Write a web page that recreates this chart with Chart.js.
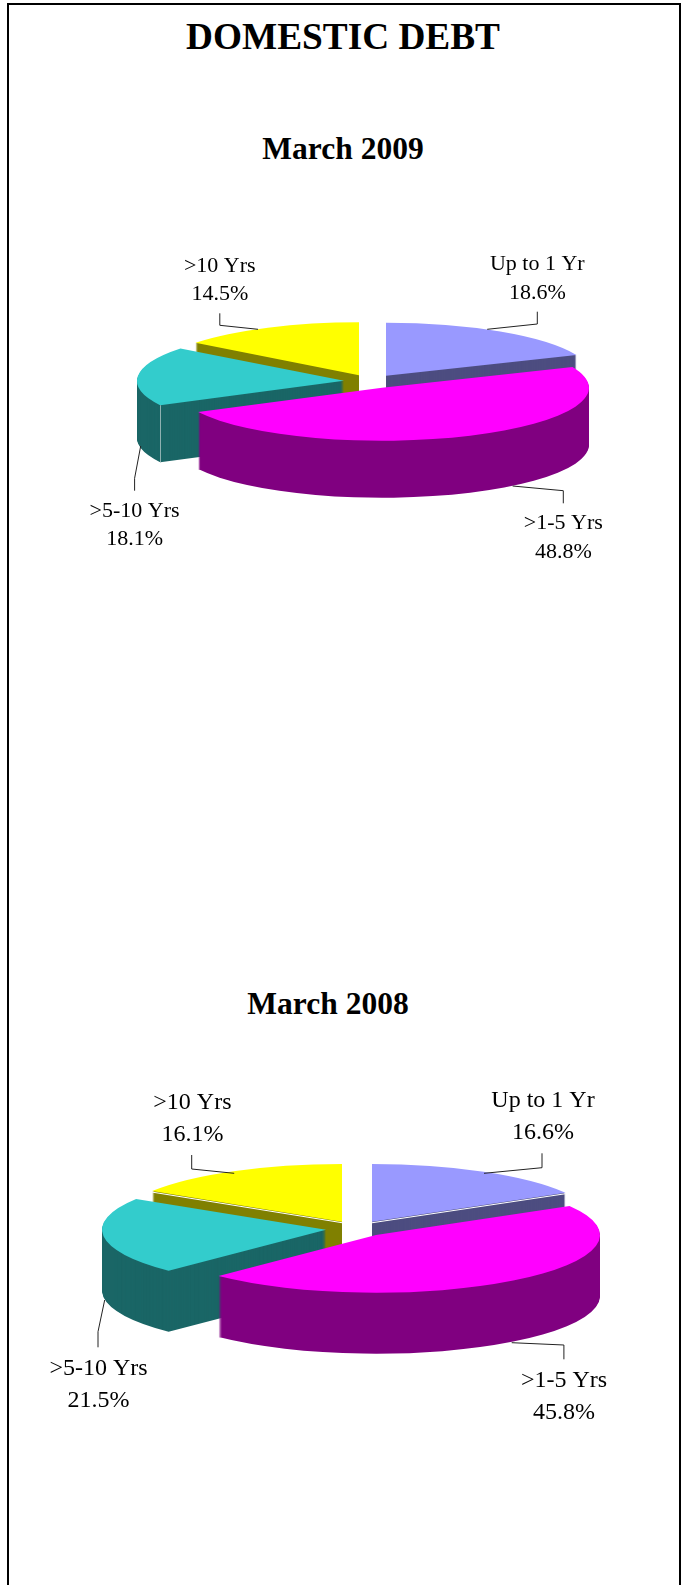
<!DOCTYPE html>
<html>
<head>
<meta charset="utf-8">
<title>Domestic Debt</title>
<script src="https://cdn.jsdelivr.net/npm/chart.js@4"></script>
<style>
  html, body { margin: 0; background: #fff; }
  #page { position: relative; width: 686px; height: 1585px; overflow: hidden; }
  #frame { position: absolute; left: 7px; top: 3px; width: 670px; height: 1600px; border: 2px solid #000; }
  canvas { position: absolute; left: 0; }
  .title { position: absolute; left: 0; width: 686px; text-align: center; font-family: "Liberation Serif", serif; font-weight: bold; line-height: 1; color: #000; }
  #mainTitle { top: 18px; font-size: 37.3px; }
  #title2009 { top: 133px; font-size: 31.5px; }
  #title2008 { top: 988px; left: -15px; font-size: 31.5px; }
</style>
</head>
<body>
<div id="page">
  <div id="frame"></div>
  <div id="mainTitle" class="title">DOMESTIC DEBT</div>
  <div id="title2009" class="title">March 2009</div>
  <div id="title2008" class="title">March 2008</div>
  <canvas id="chart2009" width="686" height="400" style="top:200px"></canvas>
  <canvas id="chart2008" width="686" height="400" style="top:1050px"></canvas>
</div>
<script>
const categories = ["Up to 1 Yr", ">1-5 Yrs", ">5-10 Yrs", ">10 Yrs"];
const values2009 = [18.6, 48.8, 18.1, 14.5];
const values2008 = [16.6, 45.8, 21.5, 16.1];

const topColors = ["#9999FF", "#FF00FF", "#33CCCC", "#FFFF00"];
const sideColors = ["#4D4D80", "#800080", "#1A6666", "#808000"];

// pie placement inside each canvas, callouts in canvas pixels
const look2009 = {
  cx: 371, cy: 181.5, radius: 207, squash: 0.256, depth: 57, explode: 27, fontSize: 22, lineGap: 28.5,
  cornerSeam: 2,
  callouts: [
    { text: [537.3, 70], line: [[487.2, 129.3], [537.3, 124], [537.3, 111.7]] },
    { text: [563.3, 329], line: [[512.6, 286], [563.3, 290.7], [563.3, 303.3]] },
    { text: [134.6, 316.7], line: [[140.7, 246], [134.6, 278.3], [134.6, 290.7]] },
    { text: [219.8, 71.7], line: [[258, 129.3], [219.8, 125.3], [219.8, 113.3]] }
  ]
};
const look2008 = {
  cx: 356.8, cy: 178.7, radius: 224, squash: 0.2576, depth: 61, explode: 31, fontSize: 24, lineGap: 32,
  whiteEdges: { 0: "endAngle", 3: "startAngle" },
  callouts: [
    { text: [543, 56.7], line: [[484, 123.3], [542, 117.7], [542, 103.3]] },
    { text: [564, 336.7], line: [[511.7, 292.7], [563.9, 295], [563.9, 309.3]] },
    { text: [98.5, 324.7], line: [[104.7, 250], [98, 281.7], [98, 297.3]] },
    { text: [192.4, 59], line: [[234.2, 123.3], [191.7, 119], [191.7, 105]] }
  ]
};

// squashes the pie into an ellipse and extrudes each slice downward
const tiltedPie = {
  id: "tiltedPie",
  beforeDatasetsDraw(chart, args, look) {
    const ctx = chart.ctx;
    const meta = chart.getDatasetMeta(0);
    const arcs = meta.data.map((arc, i) => ({ arc, i }));
    // back slices first so the front ones cover them
    arcs.sort((a, b) => {
      return Math.sin((a.arc.startAngle + a.arc.endAngle) / 2) - Math.sin((b.arc.startAngle + b.arc.endAngle) / 2);
    });

    arcs.forEach(({ arc, i }) => {
      const mid = (arc.startAngle + arc.endAngle) / 2;
      // whole pixels keep the straight upright edges free of a dark fringe
      const apexX = Math.round(look.cx + look.explode * Math.cos(mid));
      const apexY = look.cy + look.explode * Math.sin(mid) * look.squash;
      const topOptions = arc.options;
      const sideOptions = { ...topOptions, backgroundColor: sideColors[i] };

      const paint = (drop) => {
        ctx.save();
        ctx.translate(apexX, apexY + drop);
        ctx.scale(1, look.squash);
        ctx.translate(-arc.x, -arc.y);
        arc.draw(ctx);
        ctx.restore();
      };
      const rimPoint = (angle) => [
        apexX + arc.outerRadius * Math.cos(angle),
        apexY + arc.outerRadius * Math.sin(angle) * look.squash
      ];

      arc.options = sideOptions;
      for (let drop = look.depth; drop > 0; drop--) {
        paint(drop);
      }
      arc.options = topOptions;
      paint(0);

      ctx.save();
      ctx.lineWidth = 1;
      if (look.whiteEdges && look.whiteEdges[i]) {
        const [x, y] = rimPoint(arc[look.whiteEdges[i]]);
        ctx.strokeStyle = "#fff";
        ctx.beginPath();
        ctx.moveTo(apexX, apexY + 1);
        ctx.lineTo(x, y + 1);
        ctx.stroke();
      }
      if (look.cornerSeam === i) {
        const [x, y] = rimPoint(arc.startAngle);
        ctx.strokeStyle = "#8FB0B0";
        ctx.beginPath();
        ctx.moveTo(Math.round(x) + 0.5, y);
        ctx.lineTo(Math.round(x) + 0.5, y + look.depth);
        ctx.stroke();
      }
      ctx.restore();
    });
    return false;
  },
  afterDraw(chart, args, look) {
    const ctx = chart.ctx;
    const values = chart.data.datasets[0].data;
    ctx.save();
    ctx.fillStyle = "#000";
    ctx.strokeStyle = "#222";
    ctx.lineWidth = 1;
    ctx.textAlign = "center";
    ctx.font = look.fontSize + 'px "Liberation Serif", serif';
    look.callouts.forEach((callout, i) => {
      ctx.beginPath();
      callout.line.forEach(([x, y], n) => (n ? ctx.lineTo(x, y) : ctx.moveTo(x, y)));
      ctx.stroke();
      const [x, y] = callout.text;
      ctx.fillText(chart.data.labels[i], x, y);
      ctx.fillText(values[i].toFixed(1) + "%", x, y + look.lineGap);
    });
    ctx.restore();
  }
};

const drawPie = (id, values, look) => {
  new Chart(document.getElementById(id), {
    type: "pie",
    data: {
      labels: categories,
      datasets: [{ data: values, backgroundColor: topColors, borderWidth: 0 }]
    },
    options: {
      responsive: false,
      animation: false,
      radius: look.radius,
      plugins: {
        legend: { display: false },
        tooltip: { enabled: false },
        tiltedPie: look
      }
    },
    plugins: [tiltedPie]
  });
};

drawPie("chart2009", values2009, look2009);
drawPie("chart2008", values2008, look2008);
</script>
</body>
</html>
